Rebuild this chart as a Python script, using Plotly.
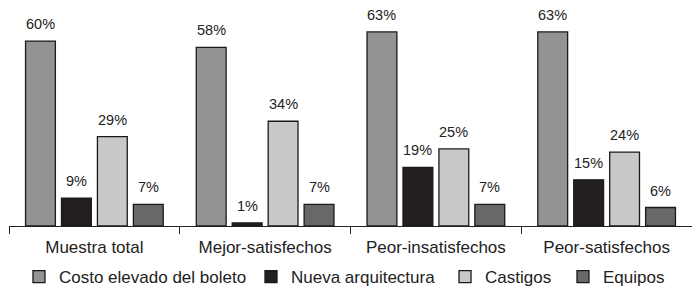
import plotly.graph_objects as go

categories = ["Muestra total", "Mejor-satisfechos", "Peor-insatisfechos", "Peor-satisfechos"]
series_names = ["Costo elevado del boleto", "Nueva arquitectura", "Castigos", "Equipos"]
costo = [60, 58, 63, 63]
nueva = [9, 1, 19, 15]
castigos = [29, 34, 25, 24]
equipos = [7, 7, 7, 6]
values = [costo, nueva, castigos, equipos]
colors = ["#939393", "#231f20", "#c8c8c8", "#686868"]

BARGAP = 0.158
GROUPGAP = 0.17
FONT = "Liberation Sans, Arial, sans-serif"
LEGEND_X = [0.0146, 0.3543, 0.6384, 0.8111]

fig = go.Figure()
legend_ids = ["legend", "legend2", "legend3", "legend4"]
for name, vals, col, lid in zip(series_names, values, colors, legend_ids):
    fig.add_trace(go.Bar(
        x=categories, y=vals, name=name, legend=lid,
        marker=dict(color=col, line=dict(color="#1a1a1a", width=1.3)),
    ))

slot = (1 - BARGAP) / len(values)
annotations = []
for k, vals in enumerate(values):
    for i, v in enumerate(vals):
        annotations.append(dict(
            x=i + (k - (len(values) - 1) / 2) * slot, y=v,
            xref="x", yref="y", text=f"{v}%", showarrow=False,
            yanchor="bottom", yshift=7,
            font=dict(size=14.5, color="#222222", family=FONT),
        ))

legend_common = dict(orientation="h", xanchor="left", y=-0.236, yanchor="middle",
                     font=dict(size=17, color="#222222"))

# the page body has an 8px margin, so the figure is sized to the visible area
fig.update_layout(
    width=692, height=292,
    margin=dict(l=1, r=8, t=2, b=74, autoexpand=False),
    paper_bgcolor="white", plot_bgcolor="white",
    barmode="group", bargap=BARGAP, bargroupgap=GROUPGAP,
    font=dict(family=FONT, color="#222222"),
    showlegend=True,
    annotations=annotations,
    xaxis=dict(showline=True, linecolor="#222222", linewidth=1,
               ticks="outside", tickson="boundaries", ticklen=7, tickcolor="#222222",
               ticklabelstandoff=6,
               tickfont=dict(size=17, color="#222222"), showgrid=False, zeroline=False),
    yaxis=dict(range=[0, 70.1], visible=False, showgrid=False, zeroline=False),
)
for lid, lx in zip(legend_ids, LEGEND_X):
    fig.update_layout({lid: dict(x=lx, **legend_common)})

fig.write_html("out.html")
